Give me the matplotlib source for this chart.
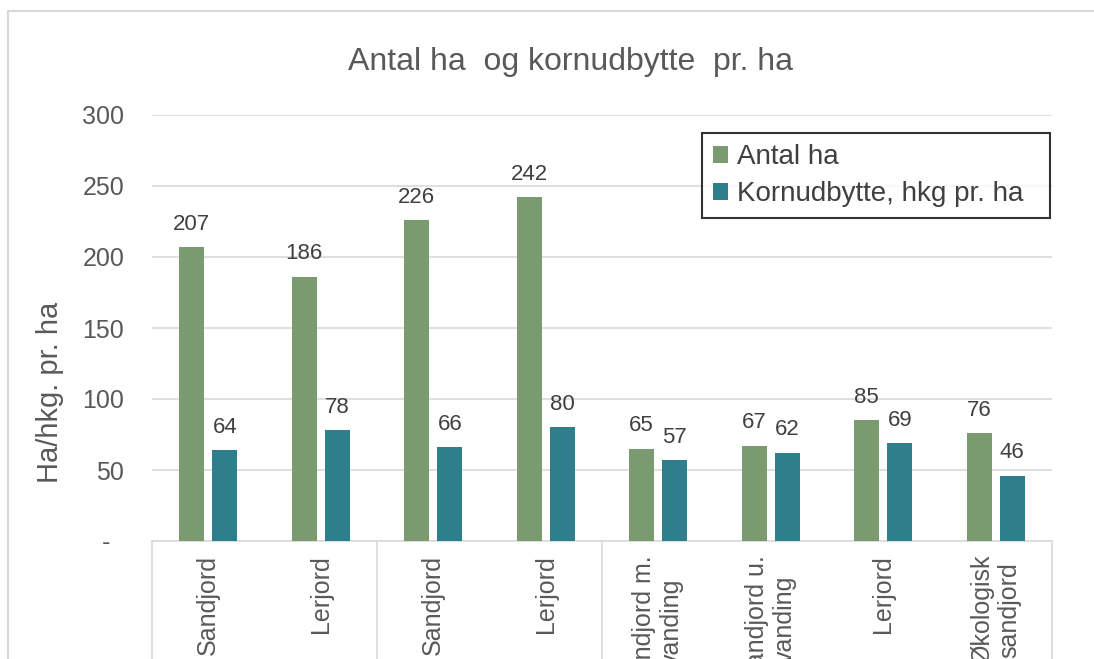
import numpy as np
import matplotlib.pyplot as plt
from matplotlib.patches import Rectangle

# data
categories = ["Sandjord", "Lerjord", "Sandjord", "Lerjord",
              "Sandjord m.\nvanding", "Sandjord u.\nvanding", "Lerjord",
              "Økologisk\nsandjord"]
antal_ha = [207, 186, 226, 242, 65, 67, 85, 76]
kornudbytte = [64, 78, 66, 80, 57, 62, 69, 46]
y_ticks = [0, 50, 100, 150, 200, 250, 300]
y_tick_labels = ["-  ", "50", "100", "150", "200", "250", "300"]
group_edges = [-0.5, 1.5, 3.5, 7.5]

GREEN = "#7a9a6f"
TEAL = "#2e7e8c"
GREY_TXT = "#595959"
GRID = "#d9d9d9"

plt.rcParams['font.family'] = ['Liberation Sans', 'DejaVu Sans']

W, H = 1094, 659
fig = plt.figure(figsize=(W / 100, H / 100), dpi=100)
# outer chart border (runs off the right and bottom edges)
fig.patches.append(Rectangle((8 / W, -0.2), 1.2, 1.2 - 11 / H, transform=fig.transFigure,
                             fill=False, edgecolor=GRID, lw=1.5))

ax = fig.add_axes([152 / W, 118 / H, 900 / W, 426 / H])
x = np.arange(len(categories))
bw = 0.225
off = 0.147
b1 = ax.bar(x - off, antal_ha, bw, color=GREEN, label="Antal ha", zorder=3)
b2 = ax.bar(x + off, kornudbytte, bw, color=TEAL, label="Kornudbytte, hkg pr. ha", zorder=3)
ax.bar_label(b1, padding=9, fontsize=16, color="#404040")
ax.bar_label(b2, padding=9, fontsize=16, color="#404040")

ax.set_xlim(-0.5, 7.5)
ax.set_ylim(0, 300)
ax.set_yticks(y_ticks)
ax.set_yticklabels(y_tick_labels, fontsize=18, color=GREY_TXT)
ax.tick_params(axis='y', length=0, pad=20)
ax.set_xticks(x)
ax.set_xticklabels(categories, rotation=90, fontsize=18, color=GREY_TXT)
for lbl in ax.get_xticklabels():
    lbl.set_multialignment('center')
ax.tick_params(axis='x', length=0, pad=10)

ax.grid(axis='y', color=GRID, lw=1.2, zorder=0)
ax.set_axisbelow(True)
for s in ['top', 'right', 'left']:
    ax.spines[s].set_visible(False)
ax.spines['bottom'].set_color(GRID)
ax.spines['bottom'].set_linewidth(1.2)

# group separators of the category axis
for e in group_edges:
    ax.plot([e, e], [0, -0.5], color=GRID, lw=1.2, clip_on=False,
            transform=ax.get_xaxis_transform())

fig.text(570 / W, 1 - 62 / H, "Antal ha  og kornudbytte  pr. ha", ha='center', va='center',
         fontsize=23, color=GREY_TXT)
fig.text(50 / W, 1 - 392 / H, "Ha/hkg. pr. ha", ha='center', va='center', rotation=90,
         fontsize=21, color=GREY_TXT)

leg = ax.legend(loc='upper left', bbox_to_anchor=(702 / W, 1 - 224 / H, 348 / W, 91 / H),
                bbox_transform=fig.transFigure, mode='expand', borderaxespad=0,
                fontsize=20, handlelength=0.55, handleheight=0.55, handletextpad=0.3,
                labelspacing=0.4, borderpad=0.4, fancybox=False, frameon=True,
                labelcolor="#404040")
leg.get_frame().set_edgecolor('black')
leg.get_frame().set_linewidth(1.5)

fig.savefig("out.png", dpi=100)
